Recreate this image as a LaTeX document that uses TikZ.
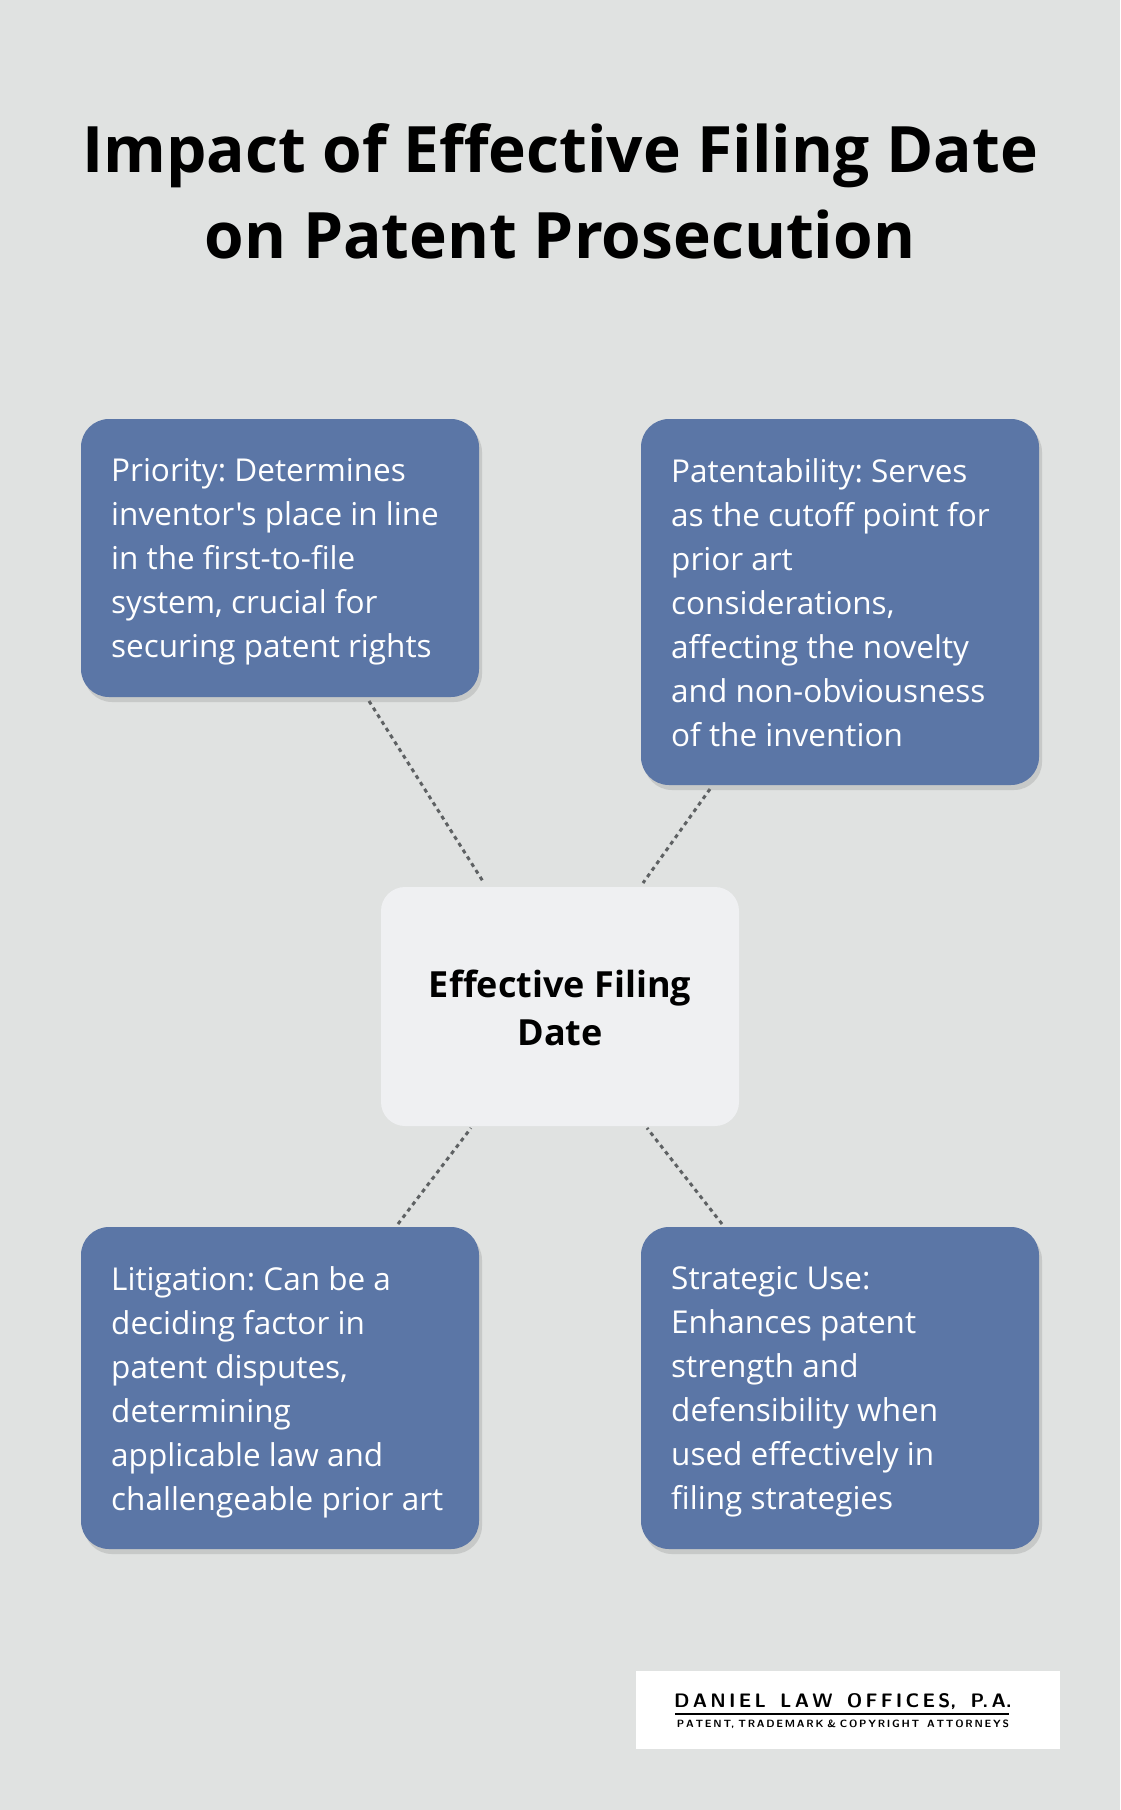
\documentclass[tikz,border=0pt]{standalone}
\usepackage{fontspec}
\setmainfont{Open Sans}[Ligatures=TeXOff]
\usetikzlibrary{shadows}
\frenchspacing
\tikzset{
  card/.style={fill=cardblue, rounded corners=28pt, drop shadow={shadow xshift=3pt, shadow yshift=-5pt, opacity=0.25}},
  cardtext/.style={anchor=north west, align=left, text=white, inner sep=0pt, font=\fontsize{31.5}{44}\selectfont},
  link/.style={draw=linkgray, dashed, dash pattern=on 4pt off 4pt, line width=3pt}
}
\definecolor{bggray}{HTML}{E0E2E1}
\definecolor{cardblue}{HTML}{5B76A6}
\definecolor{centerfill}{HTML}{EFF0F2}
\definecolor{linkgray}{HTML}{5E6163}
\begin{document}
\begin{tikzpicture}[x=1pt,y=-1pt]
    \fill[bggray] (0,0) rectangle (1120,1810);
    \useasboundingbox (0,0) rectangle (1120,1810);
    % title
    \node[font=\fontsize{64}{86}\selectfont\bfseries, align=center] (title) at (560,191) {Impact of Effective Filing Date\\on Patent Prosecution};
    % connectors
    \coordinate (tlend) at (369,701);
    \coordinate (trend) at (710,789);
    \coordinate (blend) at (398,1224);
    \coordinate (brend) at (722,1224);
    \coordinate (ctl) at (484,883);
    \coordinate (ctr) at (643,883);
    \coordinate (cbl) at (471,1128);
    \coordinate (cbr) at (647,1128);
    \draw[link] (tlend) -- (ctl);
    \draw[link] (trend) -- (ctr);
    \draw[link] (blend) -- (cbl);
    \draw[link] (brend) -- (cbr);
    % cards
    \fill[card] (81,419) rectangle (479,697);
    \fill[card] (641,419) rectangle (1039,785);
    \fill[card] (81,1227) rectangle (479,1549);
    \fill[card] (641,1227) rectangle (1039,1549);
    \fill[centerfill, rounded corners=24pt] (381,887) rectangle (739,1126);
    \node[cardtext] (priority) at (111,458) {Priority: Determines\\inventor's place in line\\in the first-to-file\\system, crucial for\\securing patent rights};
    \node[cardtext] (patentability) at (671,458) {Patentability: Serves\\as the cutoff point for\\prior art\\considerations,\\affecting the novelty\\and non-obviousness\\of the invention};
    \node[cardtext] (litigation) at (111,1266) {Litigation: Can be a\\deciding factor in\\patent disputes,\\determining\\applicable law and\\challengeable prior art};
    \node[cardtext] (strategic) at (671,1266) {Strategic Use:\\Enhances patent\\strength and\\defensibility when\\used effectively in\\filing strategies};
    \node[font=\fontsize{36}{48}\selectfont\bfseries, align=center] (efd) at (560,1008) {Effective Filing\\Date};
    % logo
    \fill[white] (636,1671) rectangle (1060,1749);
    \node[font=\fontsize{19.5}{19.5}\selectfont\sffamily\bfseries, inner sep=0pt] (logo) at (843,1702) {D\,A\,N\,I\,E\,L\ \ L\,A\,W\ \ O\,F\,F\,I\,C\,E\,S,\ \ P.\,A.};
    \draw[line width=1.8pt] (675,1714) -- (1009,1714);
    \node[font=\fontsize{10.5}{10.5}\selectfont\sffamily\bfseries, inner sep=0pt] (tag) at (843,1724) {P\,A\,T\,E\,N\,T,\ T\,R\,A\,D\,E\,M\,A\,R\,K\ \&\ C\,O\,P\,Y\,R\,I\,G\,H\,T\ \ A\,T\,T\,O\,R\,N\,E\,Y\,S};
\end{tikzpicture}
\end{document}
